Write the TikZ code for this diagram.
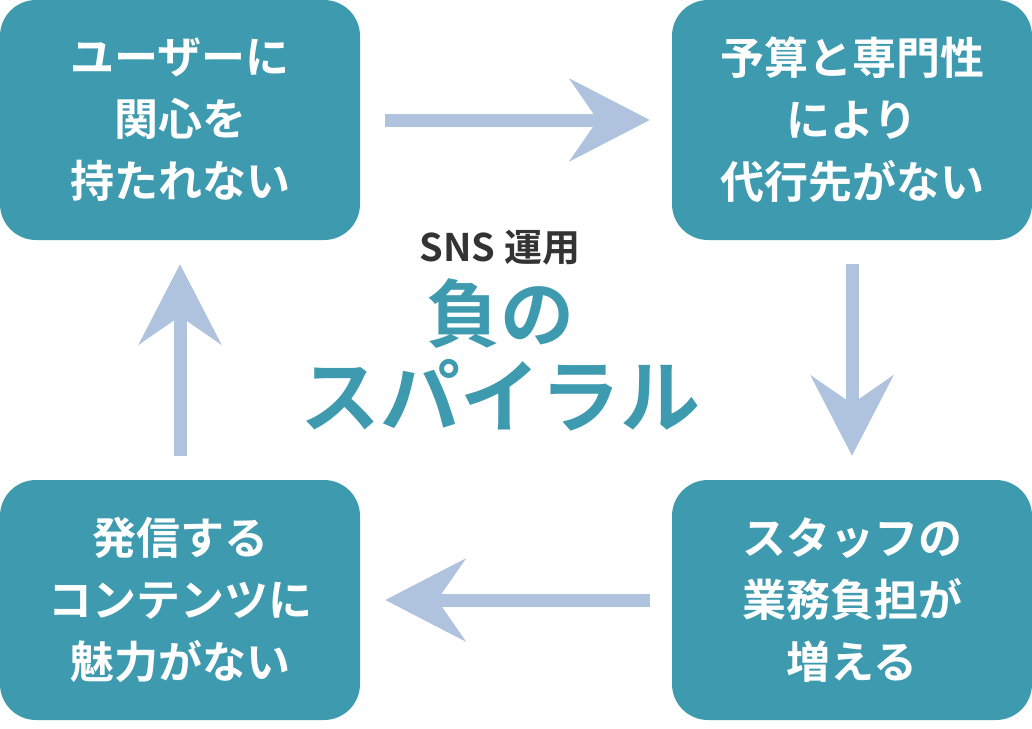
\documentclass[tikz,border=0pt]{standalone}
\usepackage{fontspec}
\setmainfont{Noto Sans CJK JP}[BoldFont={Noto Sans CJK JP Bold}]
\usetikzlibrary{arrows.meta,positioning}
\definecolor{teal}{HTML}{3E9AAF}
\definecolor{pale}{HTML}{AFC3DE}
\definecolor{ink}{HTML}{333333}
\tikzset{
  cause/.style={fill=teal,rounded corners=36pt,minimum width=360pt,minimum height=240pt,
    text=white,align=center,font=\bfseries\fontsize{44}{62}\selectfont},
  flow/.style={pale,line width=13pt,-{Stealth[length=80pt,width=82pt,inset=28pt]}}
}
\begin{document}
\begin{tikzpicture}[x=1pt,y=-1pt]
  \useasboundingbox (0,0) rectangle (1032,728);
  \node[cause] (users) at (180,120) {ユーザーに\\関心を\\持たれない};
  \node[cause] (budget) at (852,120) {予算と専門性\\により\\代行先がない};
  \node[cause] (staff) at (852,600) {スタッフの\\業務負担が\\増える};
  \node[cause] (content) at (180,600) {発信する\\コンテンツに\\魅力がない};
  \draw[flow] ([xshift=25pt]users.east) -- ([xshift=-22pt]budget.west);
  \draw[flow] ([yshift=-24pt]budget.south) -- ([yshift=24pt]staff.north);
  \draw[flow] ([xshift=-22pt]staff.west) -- ([xshift=25pt]content.east);
  \draw[flow] ([yshift=24pt]content.north) -- ([yshift=-24pt]users.south);
  \node[text=ink,font=\bfseries\fontsize{38}{40}\selectfont] (sns) at (500,248) {SNS 運用};
  \node[text=teal,font=\bfseries\fontsize{74}{80}\selectfont,below=6pt of sns] (neg) {負の};
  \node[text=teal,font=\bfseries\fontsize{80}{84}\selectfont,below=4pt of neg] (spiral) {スパイラル};
\end{tikzpicture}
\end{document}
